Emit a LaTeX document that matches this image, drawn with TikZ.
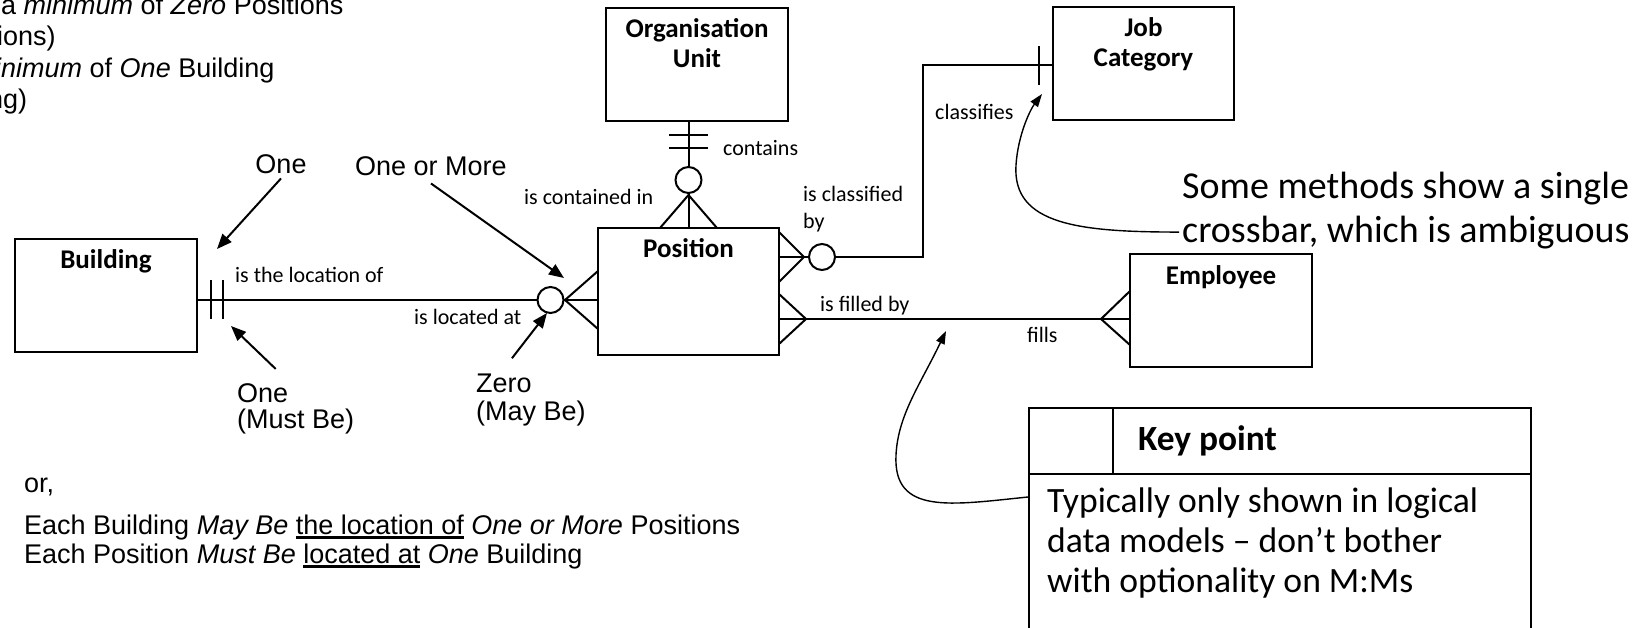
\documentclass[tikz,border=0pt]{standalone}
\usepackage{fontspec}
\setmainfont{Carlito}
\newfontfamily\arialf{Liberation Sans}
\usetikzlibrary{arrows.meta}
\newsavebox\ulbox
\newcommand\myul[1]{\sbox\ulbox{#1}\rlap{\rule[-4.5pt]{\wd\ulbox}{2.2pt}}\usebox\ulbox}
\begin{document}
\begin{tikzpicture}[x=1pt,y=-1pt,
  ent/.style={draw, line width=2pt, inner sep=0pt},
  ttl/.style={font=\fontsize{27}{32}\selectfont\bfseries, inner sep=0pt, anchor=base},
  lbl/.style={font=\fontsize{22}{26}\selectfont, inner sep=0pt, anchor=base west},
  ann/.style={font=\arialf\fontsize{27}{31}\selectfont, inner sep=0pt},
  rel/.style={line width=2pt},
  opt/.style={circle, draw, fill=white, line width=2pt, minimum size=26pt, inner sep=0pt},
  arr/.style={line width=2pt, -{Triangle[length=15pt,width=12pt]}},
  call/.style={line width=1.4pt, -{Triangle[length=13pt,width=9pt]}},
  big/.style={font=\fontsize{38}{42}\selectfont, inner sep=0pt, anchor=base west},
  keyt/.style={font=\fontsize{35.6}{40}\selectfont, inner sep=0pt, anchor=base west}]
\useasboundingbox (0,0) rectangle (1652,627);
\fill[white] (0,0) rectangle (1652,627);
\clip (0,0) rectangle (1652,627);

% top-left text (cut off)
\node[ann, anchor=base west] (tl1) at (1,14) {a \textit{minimum} of \textit{Zero} Positions};
\node[ann, anchor=base west] (tl2) at (-3,45.5) {ions)};
\node[ann, anchor=base west] (tl3) at (-5,77) {\textit{inimum} of \textit{One} Building};
\node[ann, anchor=base west] (tl4) at (-12,108.5) {ng)};

% entities
\node[ent, minimum width=182pt, minimum height=113pt] (bldg) at (106,295.5) {};
\node[ent, minimum width=182pt, minimum height=113pt] (org) at (697,64.5) {};
\node[ent, minimum width=181pt, minimum height=127pt] (pos) at (688.5,291.5) {};
\node[ent, minimum width=181pt, minimum height=113pt] (job) at (1143.5,63.5) {};
\node[ent, minimum width=182pt, minimum height=113pt] (emp) at (1221,310.5) {};

\node[ttl] (bldgT) at (106,268) {Building};
\node[ttl] (orgT1) at (697,37) {Organisation};
\node[ttl] (orgT2) at (697,67) {Unit};
\node[ttl] (posT) at (688.5,257) {Position};
\node[ttl] (jobT1) at (1143.5,36) {Job};
\node[ttl] (jobT2) at (1143.5,66) {Category};
\node[ttl] (empT) at (1221,284) {Employee};

% level coordinates
\coordinate (yA) at (0,300);
\coordinate (yC) at (0,257);
\coordinate (yJ) at (0,65);
\coordinate (yE) at (0,319);
\coordinate (yK) at (0,497);
\coordinate (yH) at (0,474);
\coordinate (xD) at (1113,0);

% Building - Position
\draw[rel] (bldg.east |- yA) -- (pos.west |- yA);
\draw[rel] (211,280) -- (211,319) (223,280) -- (223,319);
\node[opt] (oA) at (550.5,300) {};
\draw[rel] (598,271) -- (565,300) -- (598,329);

% Organisation Unit - Position
\draw[rel] (pos.north |- org.south) -- (pos.north);
\draw[rel] (669,135) -- (708,135) (669,148) -- (708,148);
\node[opt] (oB) at (688.5,180) {};
\draw[rel] (660,228) -- (688.5,195) -- (717,228);

% Position - Job Category
\draw[rel] (pos.east |- yC) -- (923,257) -- (923,65) -- (job.west |- yJ);
\node[opt] (oC) at (822,257) {};
\draw[rel] (779,232) -- (804,257) -- (779,282);
\draw[rel] (1039,46) -- (1039,85);

% Position - Employee
\draw[rel] (pos.east |- yE) -- (emp.west |- yE);
\draw[rel] (779,294) -- (806,319) -- (779,344);
\draw[rel] (1130,291) -- (1101,319) -- (1130,345);

% relationship labels
\node[lbl] (l1) at (235,282) {is the location of};
\node[lbl] (l2) at (414,324) {is located at};
\node[lbl] (l3) at (723,155) {contains};
\node[lbl] (l4) at (524,204) {is contained in};
\node[lbl] (l5) at (803,201) {is classified};
\node[lbl] (l6) at (803,228) {by};
\node[lbl] (l7) at (935,119) {classifies};
\node[lbl] (l8) at (820,311) {is filled by};
\node[lbl] (l9) at (1027,342) {fills};

% annotations
\node[ann, anchor=base] (aOne) at (281,173) {One};
\coordinate (tOne) at (217,249);
\draw[arr] ([yshift=-5pt]aOne.south) -- (tOne);
\node[ann, anchor=base] (aOOM) at (431,175) {One or More};
\coordinate (tOOM) at (564,278);
\draw[arr] ([yshift=-8pt]aOOM.south) -- (tOOM);
\node[ann, anchor=base west] (aOneB) at (237,402) {One};
\node[ann, anchor=base west] (aMust) at (237,428) {(Must Be)};
\coordinate (tOneB) at (231,326);
\draw[arr] ([xshift=13pt,yshift=14pt]aOneB.north) -- (tOneB);
\node[ann, anchor=base west] (aZero) at (476,392) {Zero};
\node[ann, anchor=base west] (aMay) at (476,420) {(May Be)};
\coordinate (tZero) at (547,313);
\draw[arr] ([xshift=8pt,yshift=15pt]aZero.north) -- (tZero);

% callout about single crossbar
\node[big] (sm1) at (1182,198) {Some methods show a single};
\node[big] (sm2) at (1182,242) {crossbar, which is ambiguous};
\coordinate (tBar) at (1042,94);
\draw[call] ([xshift=-3pt]sm2.west) .. controls (1080,232) and (1012,225) .. (1016,165) .. controls (1018,135) and (1030,110) .. (tBar);

% key point box
\node[draw, line width=2pt, minimum width=502pt, minimum height=250pt, anchor=north west, inner sep=0pt] (key) at (1028,407) {};
\draw[line width=2pt] (key.west |- yH) -- (key.east |- yH);
\draw[line width=2pt] (key.north -| xD) -- (xD |- yH);
\node[font=\fontsize{35.4}{40}\selectfont\bfseries, inner sep=0pt, anchor=base west] (keyH) at (1138,450) {Key point};
\node[keyt] (kb1) at (1047,512) {Typically only shown in logical};
\node[keyt] (kb2) at (1047,552) {data models – don’t bother};
\node[keyt] (kb3) at (1047,592) {with optionality on M:Ms};
\coordinate (tFill) at (946,331);
\draw[call] (key.west |- yK) .. controls (950,505) and (893,515) .. (896,455) .. controls (898,415) and (920,385) .. (tFill);

% bottom text
\node[ann, anchor=base west] (orT) at (24,492) {or,};
\node[ann, anchor=base west] (e1) at (24,534) {Each Building \textit{May Be} \myul{the location of} \textit{One or More} Positions};
\node[ann, anchor=base west] (e2) at (24,563) {Each Position \textit{Must Be} \myul{located at} \textit{One} Building};
\end{tikzpicture}
\end{document}
